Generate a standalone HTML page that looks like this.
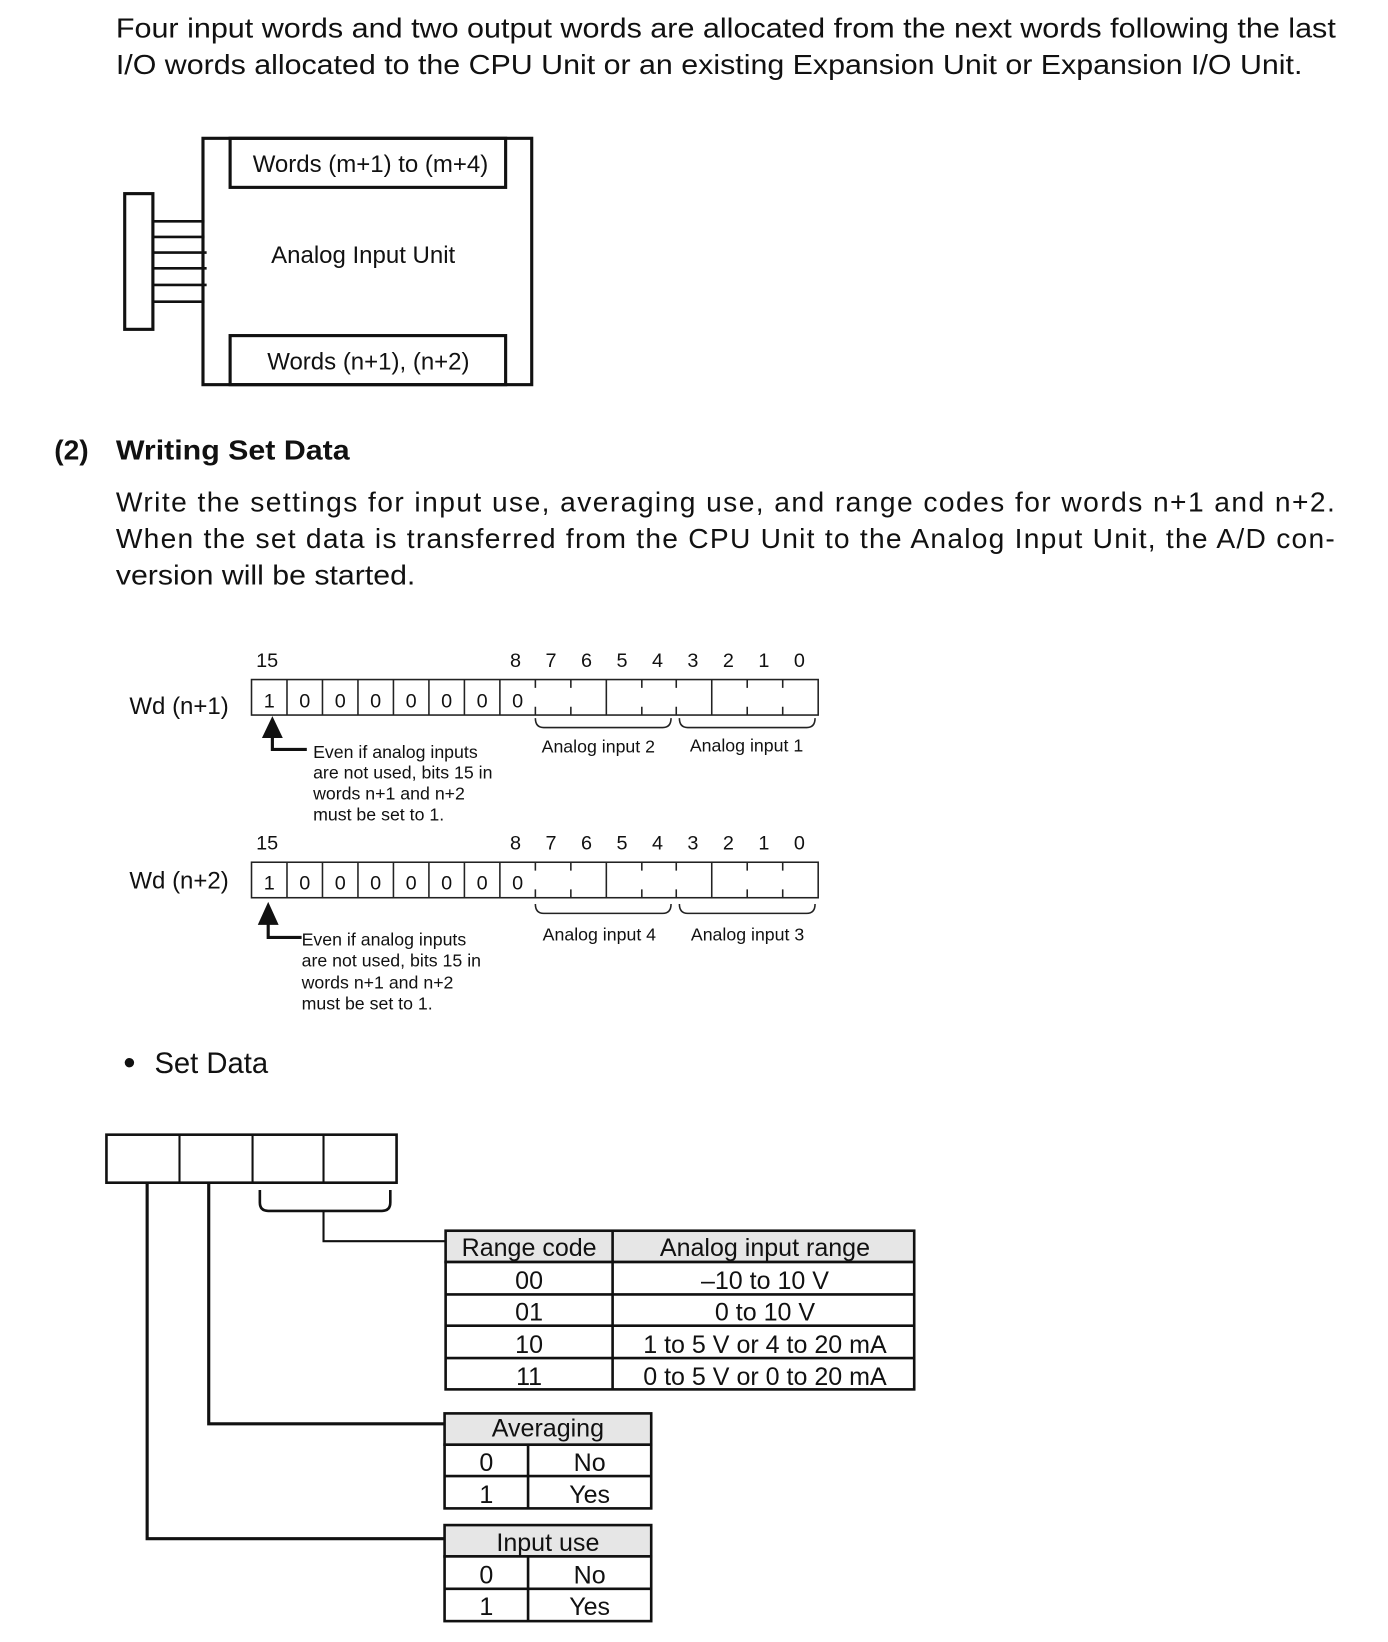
<!DOCTYPE html>
<html><head><meta charset="utf-8"><style>
html,body{margin:0;padding:0;background:#fff;}
svg{display:block;}
text{font-family:"Liberation Sans",sans-serif;fill:#111;}
</style></head><body>
<svg width="1388" height="1642" viewBox="0 0 1330 1573" preserveAspectRatio="none" xmlns="http://www.w3.org/2000/svg">
<g font-size="27">
<text x="111" y="36" textLength="1169" lengthAdjust="spacingAndGlyphs">Four input words and two output words are allocated from the next words following the last</text>
<text x="111" y="71" textLength="1137" lengthAdjust="spacingAndGlyphs">I/O words allocated to the CPU Unit or an existing Expansion Unit or Expansion I/O Unit.</text>
</g>
<g fill="none" stroke="#111">
<rect x="194.5" y="132.5" width="315" height="236" stroke-width="3"/>
<rect x="220.5" y="132.5" width="264" height="47" stroke-width="3"/>
<rect x="220.5" y="321.5" width="264" height="47" stroke-width="3"/>
<rect x="119.5" y="185.5" width="27" height="130" stroke-width="3"/>
<g stroke-width="2.5">
<line x1="147" y1="212" x2="196" y2="212"/><line x1="147" y1="227" x2="196" y2="227"/>
<line x1="147" y1="242" x2="198" y2="242"/><line x1="147" y1="257" x2="198" y2="257"/>
<line x1="147" y1="273" x2="198" y2="273"/><line x1="147" y1="289" x2="196" y2="289"/>
</g>
</g>
<g font-size="23" text-anchor="middle">
<text x="355" y="165">Words (m+1) to (m+4)</text>
<text x="348" y="252">Analog Input Unit</text>
<text x="353" y="354">Words (n+1), (n+2)</text>
</g>
<text x="52" y="440" font-size="27" font-weight="bold">(2)</text>
<text x="111" y="440" font-size="27" font-weight="bold" textLength="224" lengthAdjust="spacingAndGlyphs">Writing Set Data</text>
<g font-size="27">
<text x="111" y="490" textLength="1168" lengthAdjust="spacing">Write the settings for input use, averaging use, and range codes for words n+1 and n+2.</text>
<text x="111" y="525" textLength="1168" lengthAdjust="spacing">When the set data is transferred from the CPU Unit to the Analog Input Unit, the A/D con-</text>
<text x="111" y="560" textLength="287" lengthAdjust="spacingAndGlyphs">version will be started.</text>
</g>

<g>
<g font-size="19" text-anchor="middle">
<text x="256" y="639">15</text><text x="494" y="639">8</text><text x="528" y="639">7</text><text x="562" y="639">6</text><text x="596" y="639">5</text><text x="630" y="639">4</text><text x="664" y="639">3</text><text x="698" y="639">2</text><text x="732" y="639">1</text><text x="766" y="639">0</text>
</g>
<text x="124" y="684" font-size="23">Wd (n+1)</text>
<g fill="none" stroke="#222" stroke-width="1.5">
<rect x="241" y="651" width="543" height="34"/>
<path d="M275 651V685M309 651V685M343 651V685M377 651V685M411 651V685M445 651V685M479 651V685M581 651V685M682 651V685"/>
<path d="M513 651v8M513 685v-8M547 651v8M547 685v-8M615 651v8M615 685v-8M648 651v8M648 685v-8M716 651v8M716 685v-8M750 651v8M750 685v-8"/>
<path d="M513 688q0 9 8 9h114q8 0 8-9M651 688q0 9 8 9h114q8 0 8-9"/>
</g>
<g font-size="19" text-anchor="middle">
<text x="258" y="678">1</text><text x="292" y="678">0</text><text x="326" y="678">0</text><text x="360" y="678">0</text><text x="394" y="678">0</text><text x="428" y="678">0</text><text x="462" y="678">0</text><text x="496" y="678">0</text>
</g>
<path d="M251 707L261 686L271 707Z" fill="#111"/>
<path d="M261 705V718H294" fill="none" stroke="#111" stroke-width="3"/>
<g font-size="17">
<text x="300" y="726">Even if analog inputs</text><text x="300" y="746">are not used, bits 15 in</text><text x="300" y="766">words n+1 and n+2</text><text x="300" y="786">must be set to 1.</text>
<text x="519" y="721">Analog input 2</text><text x="661" y="720">Analog input 1</text>
</g>
</g>

<g>
<g font-size="19" text-anchor="middle">
<text x="256" y="814">15</text><text x="494" y="814">8</text><text x="528" y="814">7</text><text x="562" y="814">6</text><text x="596" y="814">5</text><text x="630" y="814">4</text><text x="664" y="814">3</text><text x="698" y="814">2</text><text x="732" y="814">1</text><text x="766" y="814">0</text>
</g>
<text x="124" y="851" font-size="23">Wd (n+2)</text>
<g fill="none" stroke="#222" stroke-width="1.5">
<rect x="241" y="826" width="543" height="34"/>
<path d="M275 826V860M309 826V860M343 826V860M377 826V860M411 826V860M445 826V860M479 826V860M581 826V860M682 826V860"/>
<path d="M513 826v8M513 860v-8M547 826v8M547 860v-8M615 826v8M615 860v-8M648 826v8M648 860v-8M716 826v8M716 860v-8M750 826v8M750 860v-8"/>
<path d="M513 866q0 9 8 9h114q8 0 8-9M651 866q0 9 8 9h114q8 0 8-9"/>
</g>
<g font-size="19" text-anchor="middle">
<text x="258" y="852">1</text><text x="292" y="852">0</text><text x="326" y="852">0</text><text x="360" y="852">0</text><text x="394" y="852">0</text><text x="428" y="852">0</text><text x="462" y="852">0</text><text x="496" y="852">0</text>
</g>
<path d="M247 886L257 864L267 886Z" fill="#111"/>
<path d="M257 884V898H289" fill="none" stroke="#111" stroke-width="3"/>
<g font-size="17">
<text x="289" y="906">Even if analog inputs</text><text x="289" y="926">are not used, bits 15 in</text><text x="289" y="947">words n+1 and n+2</text><text x="289" y="967">must be set to 1.</text>
<text x="520" y="901">Analog input 4</text><text x="662" y="901">Analog input 3</text>
</g>
</g>

<circle cx="124" cy="1018" r="4.5" fill="#111"/>
<text x="148" y="1028" font-size="28">Set Data</text>

<g fill="none" stroke="#111">
<rect x="102" y="1087" width="278" height="46" stroke-width="2.5"/>
<path d="M172 1087V1133M242 1087V1133M310 1087V1133" stroke-width="2"/>
<path d="M249 1140v12q0 8 8 8h109q8 0 8-8v-12" stroke-width="2.5"/>
<path d="M310 1160V1189H427" stroke-width="2"/>
<path d="M200 1133V1364H426" stroke-width="3"/>
<path d="M141 1133V1474H426" stroke-width="3"/>
</g>
<g stroke="#111" stroke-width="2.5">
<rect x="427" y="1179" width="449" height="30" fill="#e6e6e6"/>
<rect x="427" y="1209" width="449" height="122" fill="#fff"/>
<path d="M427 1240H876M427 1270H876M427 1301H876M587 1179V1331"/>
<rect x="426" y="1354" width="198" height="30" fill="#e6e6e6"/>
<rect x="426" y="1384" width="198" height="61" fill="#fff"/>
<path d="M426 1414H624M506 1384V1445"/>
<rect x="426" y="1461" width="198" height="30" fill="#e6e6e6"/>
<rect x="426" y="1491" width="198" height="62" fill="#fff"/>
<path d="M426 1522H624M506 1491V1553"/>
</g>
<g font-size="24" text-anchor="middle">
<text x="507" y="1203">Range code</text><text x="733" y="1203">Analog input range</text>
<text x="507" y="1235">00</text><text x="733" y="1235">–10 to 10 V</text>
<text x="507" y="1265">01</text><text x="733" y="1265">0 to 10 V</text>
<text x="507" y="1296">10</text><text x="733" y="1296">1 to 5 V or 4 to 20 mA</text>
<text x="507" y="1327">11</text><text x="733" y="1327">0 to 5 V or 0 to 20 mA</text>
<text x="525" y="1376">Averaging</text>
<text x="466" y="1409">0</text><text x="565" y="1409">No</text>
<text x="466" y="1440">1</text><text x="565" y="1440">Yes</text>
<text x="525" y="1486">Input use</text>
<text x="466" y="1517">0</text><text x="565" y="1517">No</text>
<text x="466" y="1547">1</text><text x="565" y="1547">Yes</text>
</g>
</svg>
</body></html>
